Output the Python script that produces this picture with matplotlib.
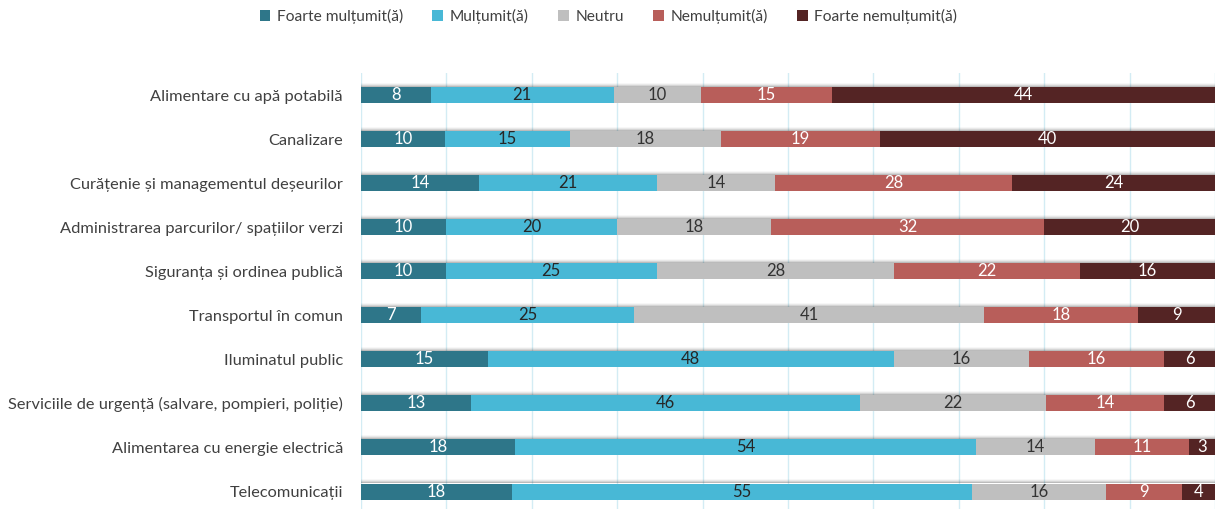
import matplotlib.pyplot as plt
import numpy as np

plt.rcParams['font.family'] = ['Lato', 'DejaVu Sans']

servicii = [
    'Alimentare cu apă potabilă',
    'Canalizare',
    'Curățenie și managementul deșeurilor',
    'Administrarea parcurilor/ spațiilor verzi',
    'Siguranța și ordinea publică',
    'Transportul în comun',
    'Iluminatul public',
    'Serviciile de urgență (salvare, pompieri, poliție)',
    'Alimentarea cu energie electrică',
    'Telecomunicații',
]

raspunsuri = ['Foarte mulțumit(ă)', 'Mulțumit(ă)', 'Neutru',
              'Nemulțumit(ă)', 'Foarte nemulțumit(ă)']

foarte_multumit = [8, 10, 14, 10, 10, 7, 15, 13, 18, 18]
multumit = [21, 15, 21, 20, 25, 25, 48, 46, 54, 55]
neutru = [10, 18, 14, 18, 28, 41, 16, 22, 14, 16]
nemultumit = [15, 19, 28, 32, 22, 18, 16, 14, 11, 9]
foarte_nemultumit = [44, 40, 24, 20, 16, 9, 6, 6, 3, 4]

culori = ['#2e7689', '#48b8d6', '#bfbfbf', '#b85e5a', '#542424']
culori_text = ['white', '#262626', '#333333', 'white', 'white']

serii = np.array([foarte_multumit, multumit, neutru, nemultumit,
                  foarte_nemultumit], dtype=float)
# graficul e 100% stivuit: fiecare rand se scaleaza la total
procente = serii / serii.sum(axis=0) * 100

fig = plt.figure(figsize=(12.17, 5.09), dpi=100)
ax = fig.add_axes([361 / 1217, 0, 854 / 1217, 436 / 509])

y = np.arange(len(servicii))
h = 0.363
px = 1 / 44.06

# umbra fina deasupra barelor
for k, a in enumerate([0.05, 0.09, 0.14, 0.2]):
    ax.barh(y - h / 2 - (4 - k) * px / 2 - px / 2, 100, height=px * (4 - k),
            color='black', alpha=a * 0.6, linewidth=0, zorder=2)

stanga = np.zeros(len(servicii))
for i, nume in enumerate(raspunsuri):
    ax.barh(y, procente[i], left=stanga, height=h, color=culori[i],
            label=nume, linewidth=0, zorder=3)
    for j in range(len(servicii)):
        ax.text(stanga[j] + procente[i][j] / 2, y[j], f'{int(serii[i][j])}',
                ha='center', va='center', fontsize=12,
                color=culori_text[i], zorder=4)
    stanga += procente[i]

ax.set_xlim(0, 100)
ax.set_ylim(9.397, -0.5)
ax.set_xticks(np.arange(0, 101, 10))
ax.xaxis.grid(True, color='#d3ecf4', linewidth=1)
ax.set_axisbelow(True)
ax.tick_params(axis='x', length=0, labelbottom=False)
ax.tick_params(axis='y', length=0, pad=13)
ax.set_yticks(y)
ax.set_yticklabels(servicii, fontsize=11.8, color='#404040')
for s in ax.spines.values():
    s.set_visible(False)

leg = fig.legend(loc='center', bbox_to_anchor=(0.5, 1 - 16 / 509), ncol=5,
                 frameon=False, fontsize=11.2, handlelength=0.7,
                 handleheight=0.7, handletextpad=0.4, columnspacing=1.9)
for t in leg.get_texts():
    t.set_color('#404040')

fig.savefig('out.png', dpi=100)
